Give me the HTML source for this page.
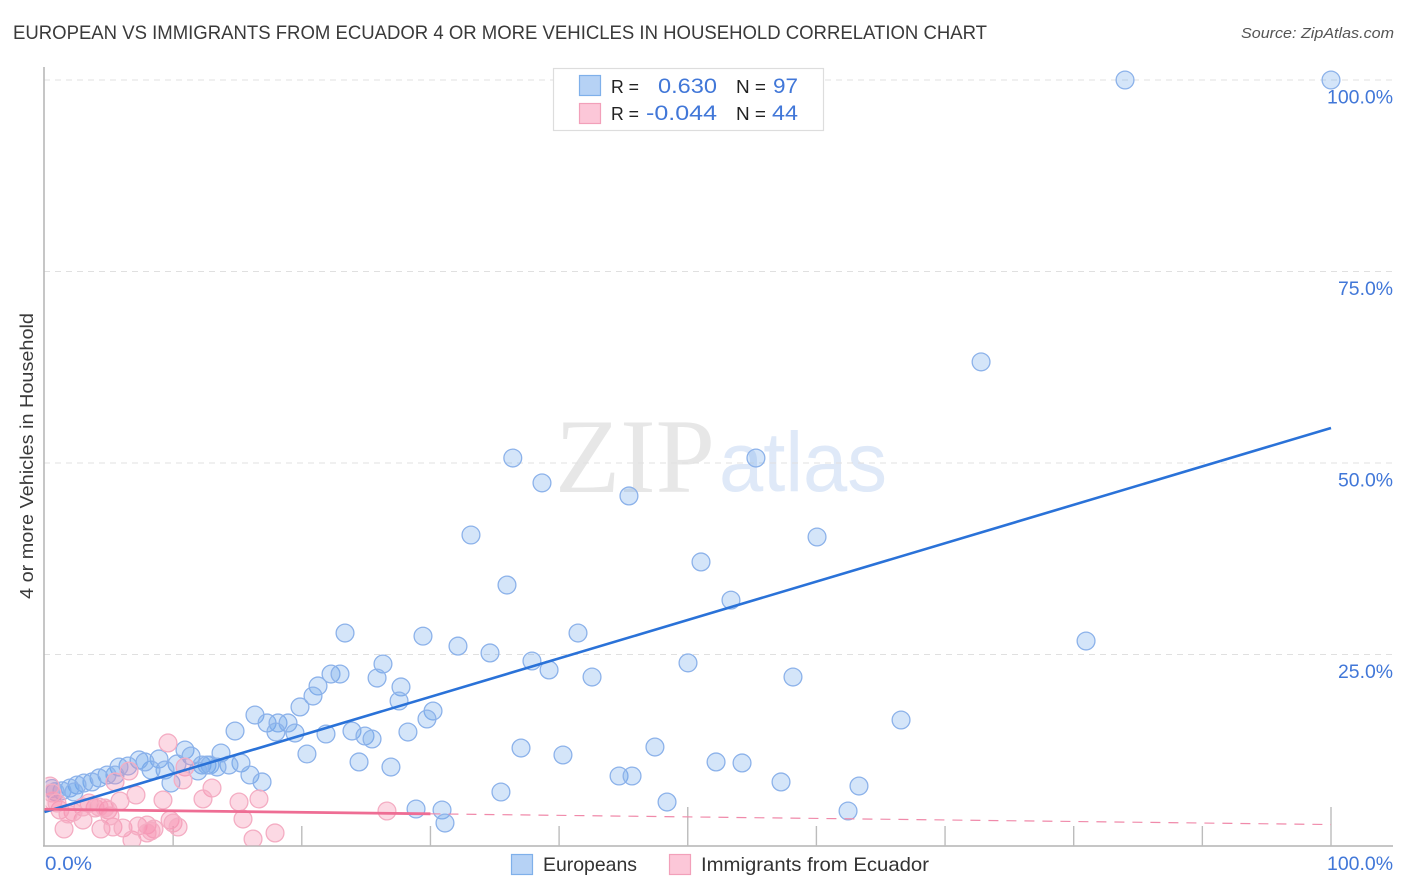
<!DOCTYPE html>
<html lang="en">
<head>
<meta charset="utf-8">
<title>European vs Immigrants from Ecuador Correlation Chart</title>
<style>
html,body{margin:0;padding:0;background:#fff;width:1406px;height:892px;overflow:hidden}
svg{display:block;font-family:"Liberation Sans",sans-serif}
</style>
</head>
<body>
<svg id="chart" width="1406" height="892" viewBox="0 0 1406 892" xmlns="http://www.w3.org/2000/svg">
  <defs>
    <clipPath id="plot-clip"><rect x="45.5" y="60" width="1348" height="785.5"/></clipPath>
  </defs>
  <rect width="1406" height="892" fill="#fff"/>
  <text x="13" y="39" font-size="19.5" fill="#3a3a3a" textLength="974" lengthAdjust="spacingAndGlyphs">EUROPEAN VS IMMIGRANTS FROM ECUADOR 4 OR MORE VEHICLES IN HOUSEHOLD CORRELATION CHART</text>
  <text x="1394" y="38" font-size="15" font-style="italic" fill="#555" text-anchor="end" textLength="153" lengthAdjust="spacingAndGlyphs">Source: ZipAtlas.com</text>

  <g>
    <text x="555" y="492" font-family="'Liberation Serif',serif" font-size="106" fill="#e7e7e7" textLength="160" lengthAdjust="spacingAndGlyphs">ZIP</text>
    <text x="719" y="491" font-size="84" fill="#dfe9f8" textLength="168" lengthAdjust="spacingAndGlyphs">atlas</text>
  </g>

  <g id="grid"></g>
  <g id="axes"></g>
  <g id="points-blue" clip-path="url(#plot-clip)"></g>
  <g id="points-pink" clip-path="url(#plot-clip)"></g>
  <g id="trends"></g>
  <g id="tick-labels"></g>

  <text transform="translate(33,456) rotate(-90)" font-size="18.5" fill="#3a3a3a" text-anchor="middle" textLength="286" lengthAdjust="spacingAndGlyphs">4 or more Vehicles in Household</text>

  <g>
    <rect x="553.5" y="68.5" width="270" height="62" fill="#fff" stroke="#ddd" stroke-width="1.2"/>
    <rect x="579.5" y="75.5" width="21" height="20" fill="#b6d2f5" stroke="#7fb0ea" stroke-width="1.2"/>
    <rect x="579.5" y="103.5" width="21" height="20" fill="#fcc7d8" stroke="#f2a0ba" stroke-width="1.2"/>
    <text x="611" y="93" font-size="18" fill="#222" textLength="28" lengthAdjust="spacingAndGlyphs">R =</text>
    <text x="717" y="93" font-size="21" fill="#4177d8" text-anchor="end" textLength="59" lengthAdjust="spacingAndGlyphs">0.630</text>
    <text x="736" y="93" font-size="18" fill="#222" textLength="30" lengthAdjust="spacingAndGlyphs">N =</text>
    <text x="798" y="93" font-size="21" fill="#4177d8" text-anchor="end" textLength="25" lengthAdjust="spacingAndGlyphs">97</text>
    <text x="611" y="120" font-size="18" fill="#222" textLength="28" lengthAdjust="spacingAndGlyphs">R =</text>
    <text x="717" y="120" font-size="21" fill="#4177d8" text-anchor="end" textLength="71" lengthAdjust="spacingAndGlyphs">-0.044</text>
    <text x="736" y="120" font-size="18" fill="#222" textLength="30" lengthAdjust="spacingAndGlyphs">N =</text>
    <text x="798" y="120" font-size="21" fill="#4177d8" text-anchor="end" textLength="26" lengthAdjust="spacingAndGlyphs">44</text>
  </g>

  <g>
    <rect x="511.5" y="854.5" width="21" height="20" fill="#b6d2f5" stroke="#7fb0ea" stroke-width="1.2"/>
    <text x="543" y="871" font-size="19.5" fill="#333" textLength="94" lengthAdjust="spacingAndGlyphs">Europeans</text>
    <rect x="669.5" y="854.5" width="21" height="20" fill="#fcc7d8" stroke="#f2a0ba" stroke-width="1.2"/>
    <text x="701" y="871" font-size="19.5" fill="#333" textLength="228" lengthAdjust="spacingAndGlyphs">Immigrants from Ecuador</text>
  </g>
</svg>
<script>
const yTickValues = [25, 50, 75, 100];
const yTickLabels = ["25.0%", "50.0%", "75.0%", "100.0%"];
const xTickValues = [0, 10, 20, 30, 40, 50, 60, 70, 80, 90, 100];
const xEdgeValues = [0, 100];
const xEdgeLabels = ["0.0%", "100.0%"];

const europeansX = [83.99,100,72.8,36.4,55.3,38.67,45.43,33.15,60.05,51.03,35.95,53.36,23.36,41.47,29.42,80.96,32.14,34.63,37.89,50.02,26.31,39.22,22.27,22.97,25.85,42.56,58.18,21.26,27.71,20.87,27.56,19.86,30.2,29.73,66.58,16.36,17.3,18.15,18.93,14.81,17.99,19.47,23.9,21.88,24.91,25.46,28.25,47.45,37.04,40.3,10.92,13.72,11.39,20.4,24.45,26.93,52.2,54.22,15.27,8.9,14.34,12.24,12.63,12.86,13.41,11.93,10.3,9.37,8.28,15.97,16.91,9.83,44.66,45.67,57.25,63.31,35.48,48.39,28.88,30.9,62.46,31.13,7.35,6.49,5.79,7.81,5.48,4.86,4.24,3.69,3.07,2.53,1.98,1.36,0.82,0.58,2.29];
const europeansY = [100,100,63.2,50.65,50.65,47.4,45.7,40.6,40.34,37.08,34.07,32.1,27.8,27.8,27.4,26.76,26.1,25.2,24.15,23.9,23.76,22.98,22.45,22.45,21.93,22.06,22.06,20.89,20.76,19.58,18.93,18.15,17.62,16.58,16.45,17.1,16.06,16.06,16.06,15.01,14.88,14.75,15.01,14.62,14.36,13.97,14.88,12.92,12.79,11.88,12.53,12.14,11.75,12.01,10.97,10.31,10.97,10.84,10.84,11.36,10.57,10.57,10.57,10.57,10.31,9.79,10.71,9.92,9.92,9.27,8.36,8.22,9.14,9.14,8.36,7.83,7.05,5.74,4.83,4.7,4.57,3.0,11.23,10.44,10.31,10.97,9.27,9.27,8.88,8.36,8.22,7.96,7.57,7.2,7.1,7.5,7.05];

const ecuadorX = [9.6,10.92,10.77,13.02,12.32,9.21,15.12,16.67,15.43,17.92,16.21,9.76,9.99,10.38,26.62,7.11,5.87,6.57,5.48,1.52,2.99,4.39,5.32,6.1,6.8,7.27,7.97,8.51,7.97,8.28,4.94,5.09,3.93,3.46,4.24,2.99,2.22,1.2,1.83,0.66,0.43,0.58,0.97,4.7];
const ecuadorY = [13.45,10.31,8.62,7.57,6.14,6.0,5.74,6.14,3.52,1.7,0.91,3.39,3.0,2.48,4.57,6.66,5.87,9.79,8.36,2.22,3.39,2.22,2.48,2.35,0.78,2.61,2.74,2.22,1.7,1.96,4.7,3.92,4.96,5.61,5.09,5.09,4.44,4.7,4.18,5.87,7.83,6.92,5.61,4.96];

const europeansTrendX = [0, 100];
const europeansTrendY = [4.44, 54.57];
const ecuadorSolidX = [0, 30];
const ecuadorSolidY = [4.8, 4.2];
const ecuadorDashedX = [30, 100];
const ecuadorDashedY = [4.2, 2.8];

const SVG_NS = "http://www.w3.org/2000/svg";
function xScale(v) { return 44.5 + v * 12.865; }
function yScale(v) { return 846 - v * 7.66; }
function make(tag, parentId, attrs) {
  const el = document.createElementNS(SVG_NS, tag);
  for (const k in attrs) el.setAttribute(k, attrs[k]);
  document.getElementById(parentId).appendChild(el);
  return el;
}

yTickValues.forEach(function (v, i) {
  const y = yScale(v);
  const grid = make("line", "grid", {x1: 44, x2: 1393, y1: y, y2: y, stroke: "#e0e0e0", "stroke-width": 1, "stroke-dasharray": "6 5"});
  
  
  const label = make("text", "tick-labels", {x: 1393, y: y + 23.5, "font-size": 19, fill: "#4177d8", "text-anchor": "end"});
  
  
  label.textContent = yTickLabels[i];
  label.setAttribute("textLength", yTickLabels[i].length === 6 ? 66 : 55);
  label.setAttribute("lengthAdjust", "spacingAndGlyphs");
});

const yAxis = make("line", "axes", {x1: 44, x2: 44, y1: 67, y2: 846.5, stroke: "#b4b4b4", "stroke-width": 1.5});


const xAxis = make("line", "axes", {x1: 43, x2: 1393, y1: 846, y2: 846, stroke: "#b4b4b4", "stroke-width": 1.5});



xTickValues.forEach(function (v) {
  if (v === 0) return;
  const x = xScale(v);
  const tall = v === 50 || v === 100;
  const tick = make("line", "axes", {x1: x, x2: x, y1: tall ? 807 : 826, y2: 846, stroke: "#bcbcbc", "stroke-width": 1.4});
  
  
});

xEdgeValues.forEach(function (v, i) {
  const label = make("text", "tick-labels", {x: i === 0 ? 45 : 1393, y: 870, "font-size": 19, fill: "#4177d8", "text-anchor": i === 0 ? "start" : "end"});
  
  
  label.textContent = xEdgeLabels[i];
  label.setAttribute("textLength", i === 0 ? 47 : 66);
  label.setAttribute("lengthAdjust", "spacingAndGlyphs");
});

europeansX.forEach(function (v, i) {
  const c = make("circle", "points-blue", {cx: xScale(v), cy: yScale(europeansY[i]), r: 8.9, fill: "rgba(100,160,235,0.28)", stroke: "#8cb2ea", "stroke-width": 1.3});
  
  
});

ecuadorX.forEach(function (v, i) {
  const c = make("circle", "points-pink", {cx: xScale(v), cy: yScale(ecuadorY[i]), r: 8.9, fill: "rgba(247,143,176,0.34)", stroke: "#f4adc3", "stroke-width": 1.3});
  
  
});

const blueTrend = make("line", "trends", {x1: xScale(europeansTrendX[0]), y1: yScale(europeansTrendY[0]), x2: xScale(europeansTrendX[1]), y2: yScale(europeansTrendY[1]), stroke: "#2a72d8", "stroke-width": 2.6});


const pinkDash = make("line", "trends", {x1: xScale(ecuadorDashedX[0]), y1: yScale(ecuadorDashedY[0]), x2: xScale(ecuadorDashedX[1]), y2: yScale(ecuadorDashedY[1]), stroke: "#f08aaa", "stroke-width": 1.2, "stroke-dasharray": "10 8"});


const pinkSolid = make("line", "trends", {x1: xScale(ecuadorSolidX[0]), y1: yScale(ecuadorSolidY[0]), x2: xScale(ecuadorSolidX[1]), y2: yScale(ecuadorSolidY[1]), stroke: "#ee6d94", "stroke-width": 2.8});


</script>
</body>
</html>
